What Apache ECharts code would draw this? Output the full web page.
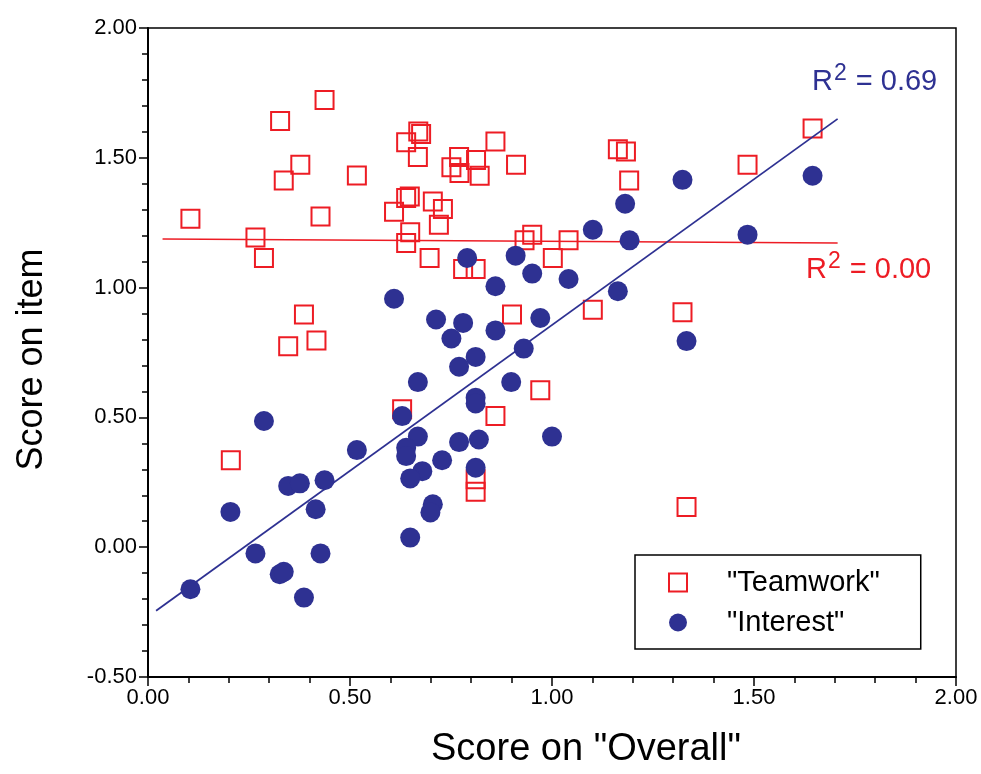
<!DOCTYPE html>
<html>
<head>
<meta charset="utf-8">
<script src="https://cdn.jsdelivr.net/npm/echarts@6/dist/echarts.min.js"></script>
<style>
html,body{margin:0;padding:0;background:#fff;}
#chart{width:981px;height:774px;}
</style>
</head>
<body>
<div id="chart"></div>
<script>
// "Teamwork" item scores vs "Overall" score
const teamwork = [
  [0.105,1.265],[0.266,1.193],[0.287,1.114],[0.327,1.642],[0.377,1.473],[0.336,1.413],
  [0.437,1.723],[0.427,1.274],[0.517,1.432],[0.669,1.601],[0.676,1.592],[0.639,1.560],
  [0.668,1.503],[0.648,1.351],[0.639,1.345],[0.609,1.292],[0.705,1.332],[0.649,1.213],
  [0.639,1.172],[0.697,1.114],[0.860,1.563],[0.770,1.503],[0.812,1.492],[0.751,1.464],
  [0.771,1.441],[0.821,1.431],[0.911,1.473],[1.163,1.533],[1.183,1.524],[1.191,1.413],
  [0.730,1.303],[0.720,1.242],[0.951,1.204],[0.932,1.182],[1.041,1.182],[1.002,1.114],
  [0.780,1.072],[0.811,1.072],[1.645,1.613],[1.484,1.473],[0.386,0.896],[0.347,0.774],
  [0.417,0.796],[0.205,0.335],[0.629,0.531],[0.901,0.896],[1.101,0.915],[1.323,0.905],
  [0.971,0.605],[0.860,0.505],[0.811,0.262],[0.811,0.214],[1.333,0.155]
];
// "Interest" item scores vs "Overall" score
const interest = [
  [0.609,0.957],[1.323,1.415],[1.181,1.323],[1.101,1.223],[1.192,1.182],[0.790,1.114],
  [0.910,1.123],[0.951,1.054],[1.041,1.033],[0.860,1.005],[1.163,0.986],[1.645,1.431],
  [1.484,1.204],[0.713,0.877],[0.668,0.636],[0.287,0.486],[0.629,0.505],[0.668,0.426],
  [0.639,0.383],[0.639,0.351],[0.517,0.374],[0.679,0.293],[0.649,0.265],[0.347,0.236],
  [0.376,0.246],[0.437,0.258],[0.705,0.165],[0.699,0.134],[0.649,0.037],[0.780,0.864],
  [0.751,0.804],[0.860,0.835],[0.971,0.883],[0.930,0.765],[0.811,0.733],[0.770,0.695],
  [0.899,0.636],[0.811,0.576],[0.811,0.554],[0.770,0.405],[0.819,0.415],[1.000,0.426],
  [0.728,0.335],[0.811,0.306],[1.333,0.794],[0.105,-0.162],[0.204,0.136],[0.266,-0.024],
  [0.326,-0.104],[0.336,-0.095],[0.386,-0.194],[0.415,0.146],[0.427,-0.024]
];
// fitted regression lines (end points)
const fitTeamwork = [[0.036,1.187],[1.707,1.172]];
const fitInterest = [[0.020,-0.245],[1.707,1.650]];
const r2Teamwork = '0.00';
const r2Interest = '0.69';
const seriesNames = ['"Teamwork"','"Interest"'];
const xTitle = 'Score on "Overall"';
const yTitle = 'Score on item';

const RED = '#ED1C24';
const BLUE = '#2E3192';
const FONT = 'Liberation Sans, Arial, sans-serif';

const chart = echarts.init(document.getElementById('chart'), null, {renderer:'canvas'});

function r2Text(val){
  return '{a|R}{b|2}{a| = ' + val + '}';
}
function r2Rich(col){
  return {
    a:{fontFamily:FONT, fontSize:29, fill:col, color:col, lineHeight:34, verticalAlign:'bottom'},
    b:{fontFamily:FONT, fontSize:23, fill:col, color:col, lineHeight:34, verticalAlign:'top', padding:[0,1,8,1]}
  };
}

chart.setOption({
  backgroundColor:'#fff',
  animation:false,
  grid:{left:148, top:28, width:808, height:650, show:true, borderColor:'#000', borderWidth:1.5, backgroundColor:'transparent'},
  xAxis:{
    type:'value', min:0, max:2, interval:0.5,
    name:xTitle, nameLocation:'middle', nameGap:54,
    nameTextStyle:{fontFamily:FONT, fontSize:38, color:'#000', padding:[0,0,0,68]},
    axisLine:{show:true, onZero:false, lineStyle:{color:'#000', width:2}},
    axisTick:{show:true, inside:false, length:9, lineStyle:{color:'#000', width:1.5}},
    minorTick:{show:true, splitNumber:5, length:6, lineStyle:{color:'#000', width:1.5}},
    axisLabel:{fontFamily:FONT, fontSize:22, color:'#000', margin:10, formatter:v=>v.toFixed(2)},
    splitLine:{show:false}
  },
  yAxis:{
    type:'value', min:-0.5, max:2, interval:0.5,
    name:yTitle, nameLocation:'middle', nameGap:98,
    nameTextStyle:{fontFamily:FONT, fontSize:36, color:'#000', padding:[0,14,0,0]},
    axisLine:{show:true, onZero:false, lineStyle:{color:'#000', width:2}},
    axisTick:{show:true, inside:false, length:9, lineStyle:{color:'#000', width:1.5}},
    minorTick:{show:true, splitNumber:5, length:6, lineStyle:{color:'#000', width:1.5}},
    axisLabel:{fontFamily:FONT, fontSize:22, color:'#000', margin:11, formatter:v=>v.toFixed(2)},
    splitLine:{show:false}
  },
  legend:{
    orient:'vertical', left:635, top:555,
    padding:[13,41,12,33],
    borderColor:'#000', borderWidth:1.5, backgroundColor:'#fff',
    itemWidth:18, itemHeight:18, itemGap:11,
    textStyle:{fontFamily:FONT, fontSize:29, color:'#000', lineHeight:28, padding:[0,0,0,35]},
    data:[
      {name:seriesNames[0], icon:'rect', itemStyle:{color:'#fff', borderColor:RED, borderWidth:2}},
      {name:seriesNames[1], icon:'circle', itemStyle:{color:BLUE}}
    ]
  },
  series:[
    {
      name:seriesNames[0], type:'scatter', data:teamwork, symbol:'rect', symbolSize:18, z:2,
      itemStyle:{color:'rgba(255,255,255,0)', borderColor:RED, borderWidth:2, opacity:1}
    },
    {
      name:'fitT', type:'line', data:fitTeamwork, symbol:'none', z:3,
      lineStyle:{color:RED, width:1.6}, silent:true
    },
    {
      name:'fitI', type:'line', data:fitInterest, symbol:'none', z:3,
      lineStyle:{color:BLUE, width:1.8}, silent:true
    },
    {
      name:seriesNames[1], type:'scatter', data:interest, symbol:'circle', symbolSize:20, z:4,
      itemStyle:{color:BLUE, opacity:1}
    }
  ],
  graphic:[
    {
      type:'text', left:812, top:62, z:10,
      style:{text:r2Text(r2Interest), fill:BLUE, font:'29px '+FONT, rich:r2Rich(BLUE)}
    },
    {
      type:'text', left:806, top:250, z:10,
      style:{text:r2Text(r2Teamwork), fill:RED, font:'29px '+FONT, rich:r2Rich(RED)}
    }
  ]
});
</script>
</body>
</html>
